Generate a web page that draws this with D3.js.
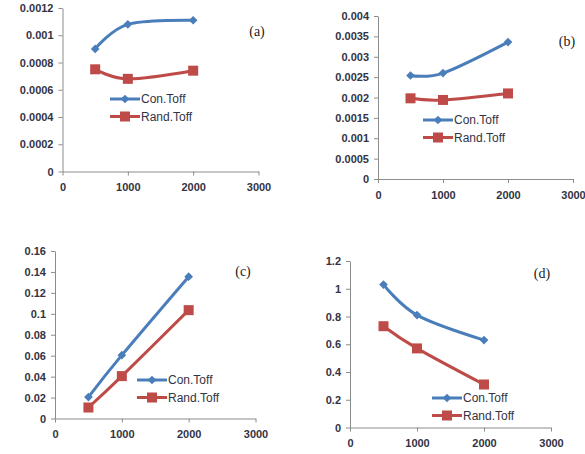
<!DOCTYPE html>
<html>
<head>
<meta charset="utf-8">
<script src="https://cdn.jsdelivr.net/npm/d3@7"></script>
<style>
  html, body { margin: 0; padding: 0; background: #fff; }
  svg { display: block; }
</style>
</head>
<body>
<svg id="chart" width="585" height="454"></svg>
<script>
// ---- Data ----
const xValues = [500, 1000, 2000];
const xTicks = [0, 1000, 2000, 3000];
const seriesNames = ["Con.Toff", "Rand.Toff"];
const panelLabels = ["(a)", "(b)", "(c)", "(d)"];

const conA = [0.0009, 0.00108, 0.00111];
const randA = [0.00075, 0.00068, 0.00074];
const yTicksA = [0, 0.0002, 0.0004, 0.0006, 0.0008, 0.001, 0.0012];

const conB = [0.00254, 0.0026, 0.00336];
const randB = [0.00198, 0.00194, 0.0021];
const yTicksB = [0, 0.0005, 0.001, 0.0015, 0.002, 0.0025, 0.003, 0.0035, 0.004];

const conC = [0.0205, 0.0605, 0.1355];
const randC = [0.0105, 0.0405, 0.1035];
const yTicksC = [0, 0.02, 0.04, 0.06, 0.08, 0.1, 0.12, 0.14, 0.16];

const conD = [1.03, 0.81, 0.63];
const randD = [0.73, 0.57, 0.31];
const yTicksD = [0, 0.2, 0.4, 0.6, 0.8, 1, 1.2];

// ---- Layout / style ----
const colors = ["#4a7ebb", "#be4b48"];
const axisColor = "#8c8c8c";
const textColor = "#333344";

const panels = [
  { label: panelLabels[0], con: conA, rand: randA, yTicks: yTicksA,
    box: { l: 62.5, r: 258.5, t: 8, b: 171.5 },
    legend: { x: 110, y: 99 }, tag: { x: 257, y: 36 } },
  { label: panelLabels[1], con: conB, rand: randB, yTicks: yTicksB,
    box: { l: 378, r: 573, t: 16, b: 179 },
    legend: { x: 423, y: 120 }, tag: { x: 567, y: 46 } },
  { label: panelLabels[2], con: conC, rand: randC, yTicks: yTicksC,
    box: { l: 55, r: 255.5, t: 251, b: 418.5 },
    legend: { x: 137, y: 380 }, tag: { x: 243, y: 276 } },
  { label: panelLabels[3], con: conD, rand: randD, yTicks: yTicksD,
    box: { l: 350, r: 551, t: 261, b: 427.5 },
    legend: { x: 432, y: 398 }, tag: { x: 542, y: 278 } }
];

const svg = d3.select("#chart");
const fmt = v => String(+v.toPrecision(6));

panels.forEach(p => {
  const g = svg.append("g");
  const x = d3.scaleLinear().domain([0, 3000]).range([p.box.l, p.box.r]);
  const y = d3.scaleLinear().domain([0, d3.max(p.yTicks)]).range([p.box.b, p.box.t]);

  // axes
  const xAxis = g.append("g")
    .attr("transform", `translate(0,${p.box.b})`)
    .call(d3.axisBottom(x).tickValues(xTicks).tickSize(4).tickSizeOuter(0).tickPadding(8).tickFormat(d3.format("d")));
  const yAxis = g.append("g")
    .attr("transform", `translate(${p.box.l},0)`)
    .call(d3.axisLeft(y).tickValues(p.yTicks).tickSize(4).tickSizeOuter(0).tickPadding(5).tickFormat(fmt));
  [xAxis, yAxis].forEach(a => {
    a.select(".domain").attr("stroke", axisColor).attr("stroke-width", 1);
    a.selectAll(".tick line").attr("stroke", axisColor);
    a.selectAll("text")
      .attr("fill", textColor)
      .style("font-family", "'Liberation Sans', Arial, sans-serif")
      .style("font-size", "11px")
      .style("font-weight", "bold");
  });

  const series = [p.con, p.rand];
  const line = d3.line()
    .x((d, i) => x(xValues[i]))
    .y(d => y(d))
    .curve(d3.curveCatmullRom.alpha(0));

  series.forEach((vals, si) => {
    g.append("path")
      .datum(vals)
      .attr("d", line)
      .attr("fill", "none")
      .attr("stroke", colors[si])
      .attr("stroke-width", 3)
      .attr("stroke-linejoin", "round");
  });

  const drawMarker = (sel, si) => {
    if (si === 0) {
      sel.append("path")
        .attr("d", d3.symbol().type(d3.symbolDiamond2).size(48)())
        .attr("fill", colors[0]);
    } else {
      sel.append("rect")
        .attr("x", -5).attr("y", -5).attr("width", 10).attr("height", 10)
        .attr("fill", colors[1]);
    }
  };

  series.forEach((vals, si) => {
    vals.forEach((v, i) => {
      const m = g.append("g").attr("transform", `translate(${x(xValues[i])},${y(v)})`);
      drawMarker(m, si);
    });
  });

  // legend
  seriesNames.forEach((name, si) => {
    const ly = p.legend.y + si * 17.5;
    const lg = g.append("g");
    lg.append("line")
      .attr("x1", p.legend.x).attr("x2", p.legend.x + 30)
      .attr("y1", ly).attr("y2", ly)
      .attr("stroke", colors[si]).attr("stroke-width", 3);
    const m = lg.append("g").attr("transform", `translate(${p.legend.x + 15},${ly})`);
    drawMarker(m, si);
    lg.append("text")
      .attr("x", p.legend.x + 31).attr("y", ly)
      .attr("dy", "0.35em")
      .attr("fill", textColor)
      .style("font-family", "'Liberation Sans', Arial, sans-serif")
      .style("font-size", "12px")
      .text(name);
  });

  // panel tag
  g.append("text")
    .attr("x", p.tag.x).attr("y", p.tag.y)
    .attr("text-anchor", "middle")
    .attr("fill", "#222")
    .style("font-family", "'Liberation Serif', 'DejaVu Serif', serif")
    .style("font-size", "14px")
    .text(p.label);
});
</script>
</body>
</html>
